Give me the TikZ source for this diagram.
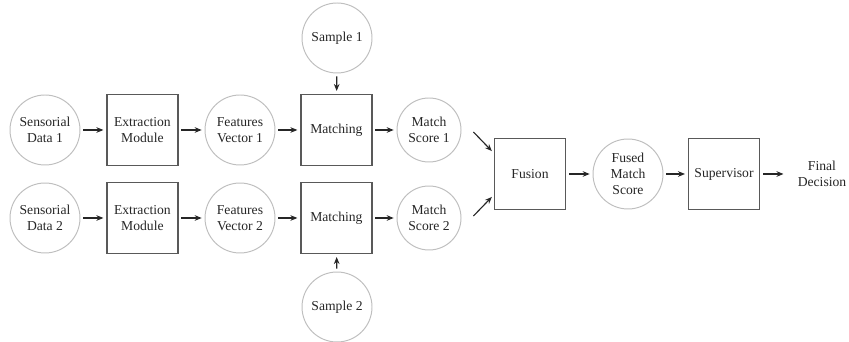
\documentclass[tikz,border=0pt]{standalone}
\usepackage{fontspec}
\setmainfont{Liberation Serif}
\usetikzlibrary{arrows.meta}

\begin{document}
\begin{tikzpicture}[>={Stealth[length=5pt,width=4pt]},
    every node/.style={font=\fontsize{9.7}{11.5}\selectfont, align=center, text=black!85},
    datacirc/.style={circle, draw=gray!50, line width=0.7pt, minimum size=1.75cm, inner sep=0pt},
    modbox/.style={rectangle, draw=black!65, line width=1pt, minimum size=1.775cm, inner sep=0pt},
    flow/.style={->, line width=0.8pt, black!85, shorten <=2pt, shorten >=2pt}]
    \useasboundingbox (0,0) rectangle (21.225,8.55);

    % first row
    \node[datacirc] (sd1) at (1.125,5.3) {Sensorial\\Data 1};
    \node[modbox] (ex1) at (3.56,5.3) {Extraction\\Module};
    \node[datacirc] (fv1) at (6.0,5.3) {Features\\Vector 1};
    \node[modbox] (mt1) at (8.41,5.3) {Matching};
    \node[datacirc, minimum size=1.6cm] (ms1) at (10.725,5.3) {Match\\Score 1};
    \node[datacirc] (sp1) at (8.425,7.6) {Sample 1};

    % second row
    \node[datacirc] (sd2) at (1.125,3.1) {Sensorial\\Data 2};
    \node[modbox] (ex2) at (3.56,3.1) {Extraction\\Module};
    \node[datacirc] (fv2) at (6.0,3.1) {Features\\Vector 2};
    \node[modbox] (mt2) at (8.41,3.1) {Matching};
    \node[datacirc, minimum size=1.6cm] (ms2) at (10.725,3.1) {Match\\Score 2};
    \node[datacirc] (sp2) at (8.425,0.875) {Sample 2};

    % fusion and decision
    \node[modbox] (fus) at (13.25,4.2) {Fusion};
    \node[datacirc] (fms) at (15.7,4.2) {Fused\\Match\\Score};
    \node[modbox] (sup) at (18.1,4.2) {Supervisor};
    \node[inner sep=0pt] (fd) at (20.55,4.2) {Final\\Decision};

    \foreach \r in {1,2} {
        \draw[flow] (sd\r) -- (ex\r);
        \draw[flow] (ex\r) -- (fv\r);
        \draw[flow] (fv\r) -- (mt\r);
        \draw[flow] (mt\r) -- (ms\r);
        \draw[flow] (sp\r) -- (mt\r);
    }
    \draw[flow] ([xshift=0.25cm]ms1.east) -- (fus.150);
    \draw[flow] ([xshift=0.25cm]ms2.east) -- (fus.210);
    \draw[flow] (fus) -- (fms);
    \draw[flow] (fms) -- (sup);
    \draw[flow, shorten >=0.35cm] (sup) -- (fd);
\end{tikzpicture}
\end{document}
